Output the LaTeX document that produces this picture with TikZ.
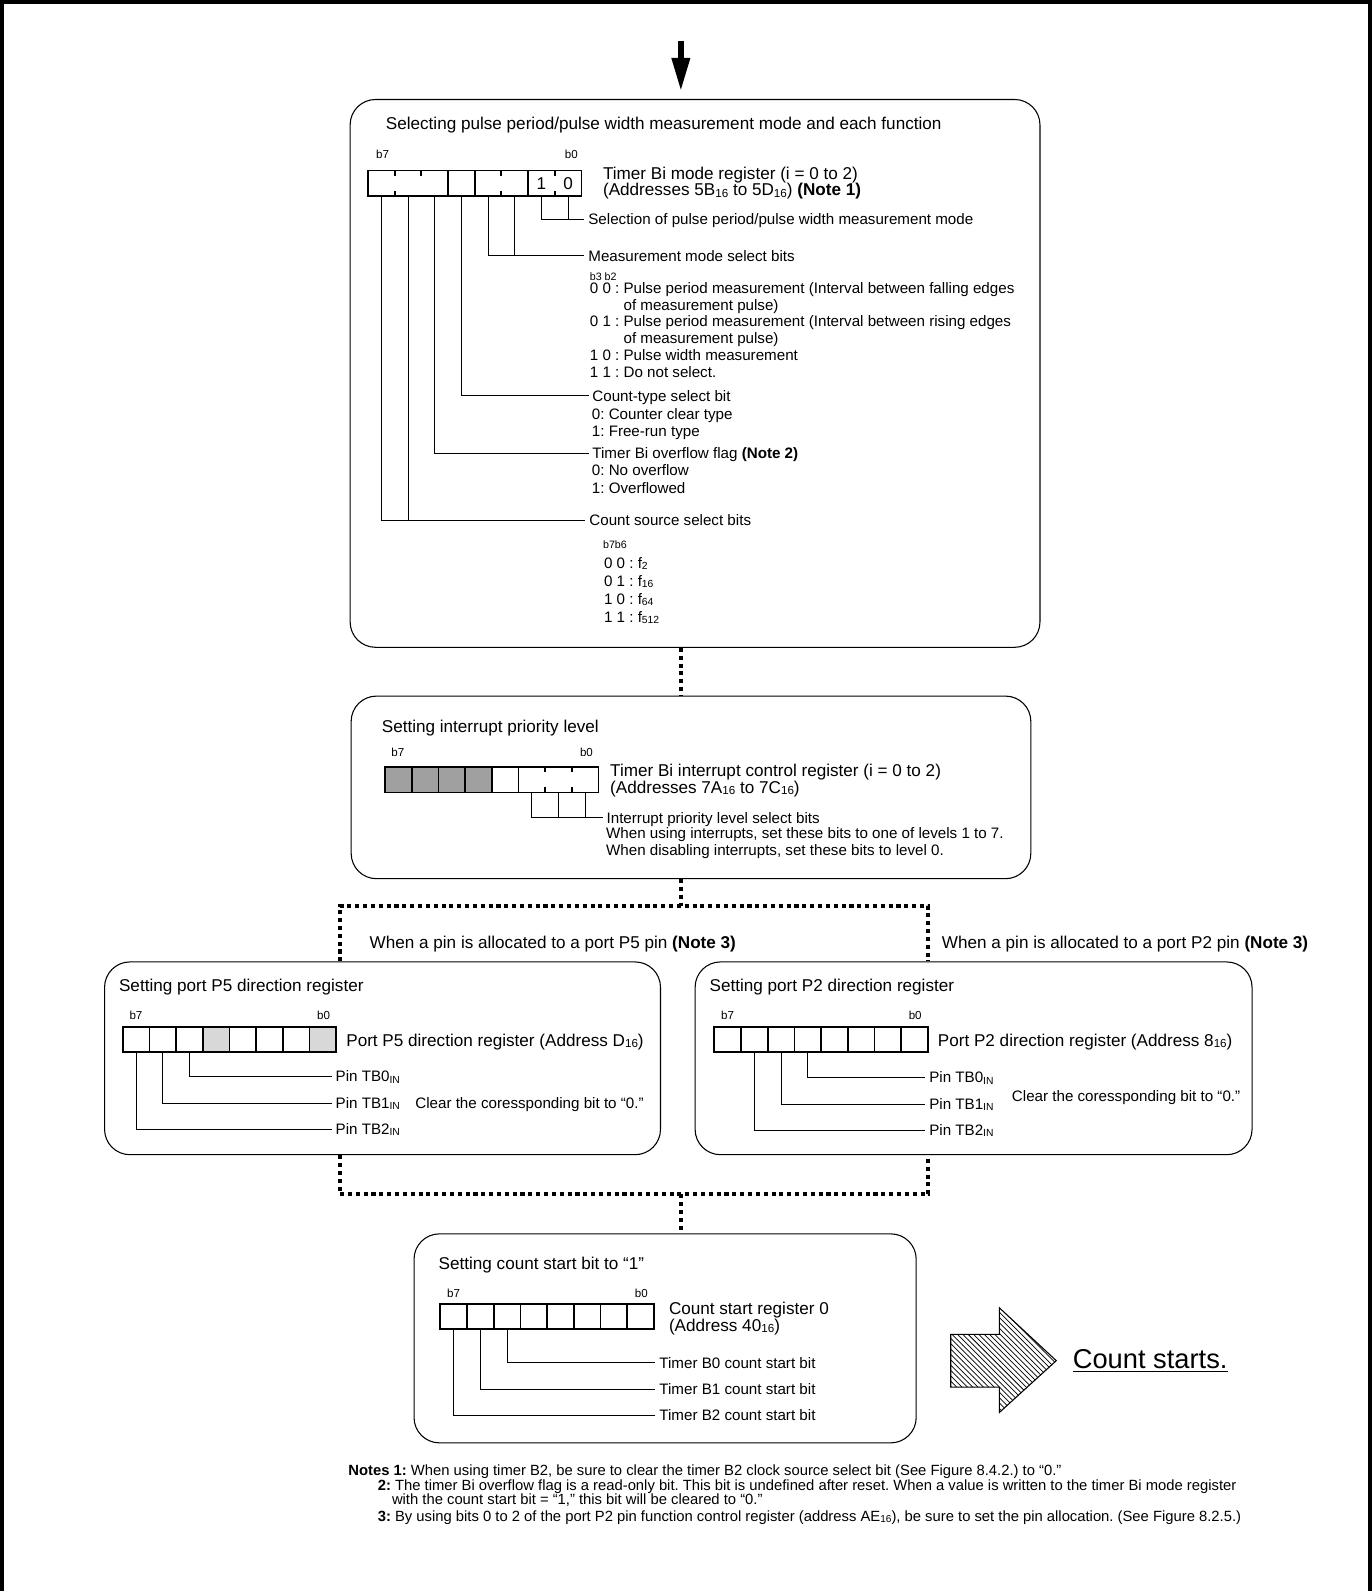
\documentclass[tikz,border=0pt]{standalone}
\usepackage{fontspec}
\setmainfont{Liberation Sans}
\usetikzlibrary{arrows.meta, patterns}
\definecolor{dunkelgrau}{RGB}{160,160,160}
\definecolor{hellgrau}{RGB}{216,216,216}
\makeatletter
\newcommand{\tief}[1]{\raisebox{-0.15ex}{\fontsize{\strip@pt\dimexpr0.68\dimexpr\f@size pt\relax\relax}{1}\selectfont #1}}
\makeatother
\frenchspacing

\begin{document}
\begin{tikzpicture}[x=0.02cm, y=-0.02cm,
	>={Triangle[length=0.66cm, width=0.34cm]}, %Pfeilspitze oben
	kasten/.style={draw, rounded corners=0.5cm, line width=0.6pt, inner sep=0pt},
	reg/.style={line width=1pt},
	bit/.style={line width=0.5pt},
	fluss/.style={line width=2.3pt, dash pattern=on 2.3pt off 2.1pt},
	gross/.style={font=\fontsize{9.6}{11}\selectfont, inner sep=0pt, anchor=base west},
	klein/.style={font=\fontsize{8.5}{9.5}\selectfont, inner sep=0pt, anchor=base west},
	lbl/.style={font=\fontsize{8.5}{9.5}\selectfont, inner ysep=0pt, inner xsep=2pt, anchor=west, text height=6pt, text depth=0pt},
	bitnr/.style={font=\fontsize{6.5}{7}\selectfont, inner sep=0pt, anchor=base},
	winzig/.style={font=\fontsize{6}{7}\selectfont, inner sep=0pt, anchor=base west},
	notiz/.style={font=\fontsize{8.3}{9}\selectfont, inner sep=0pt, anchor=base west}]
	\useasboundingbox (0,0) rectangle (1352,1568);
	%Rahmen
	\draw[line width=2.3pt] (2,1568) -- (2,2) -- (1350,2) -- (1350,1568);
	%Kaesten
	\node[kasten, minimum width=13.6cm, minimum height=10.8cm] (modus) at (685,368) {};
	\node[kasten, minimum width=13.4cm, minimum height=3.6cm] (prio) at (681,776) {};
	\node[kasten, minimum width=10.96cm, minimum height=3.8cm] (port5) at (377,1043) {};
	\node[kasten, minimum width=10.98cm, minimum height=3.8cm] (port2) at (959.5,1043) {};
	\node[kasten, minimum width=9.9cm, minimum height=4.12cm] (zaehler) at (655.5,1319) {};
	%Ablauf
	\coordinate (oben) at (671,40);
	\coordinate (mitte) at (671,90);
	\coordinate (gl) at (335,893);
	\coordinate (gr) at (915,893);
	\coordinate (ul) at (335,1177);
	\coordinate (ur) at (915,1177);
	\draw[->, line width=3.4pt] (oben) -- (mitte);
	\draw[fluss] (modus.south -| oben) -- (prio.north -| oben);
	\draw[fluss] (prio.south -| oben) -- (oben |- gl);
	\draw[fluss] (port5.north -| gl) -- (gl) -- (gr) -- (port2.north -| gr);
	\draw[fluss] (port5.south -| ul) -- (ul) -- (ur) -- (port2.south -| ur);
	\draw[fluss] (oben |- ul) -- (zaehler.north -| oben);

	%Timer Bi Modusregister
	\node[gross] (t1) at (380,128) {Selecting pulse period/pulse width measurement mode and each function};
	\node[bitnr] (m1b7) at (377,156) {b7};
	\node[bitnr] (m1b0) at (563,156) {b0};
	\draw[reg] (362.6,168) rectangle ++(210.4,25);
	\foreach \i in {3,4,6} \draw[reg] (362.6+26.3*\i,168) -- ++(0,25);
	\foreach \i in {1,5,7} \draw[reg] (362.6+26.3*\i,168) -- ++(0,5) (362.6+26.3*\i,193) -- ++(0,-5);
	\draw[reg] (362.6+26.3*2,168) -- ++(0,5);
	\node[gross, anchor=center] (z1) at (362.6+26.3*6.5,181) {1};
	\node[gross, anchor=center] (z0) at (362.6+26.3*7.5,181) {0};
	\foreach \b in {0,...,7} \coordinate (m\b) at (362.6+26.3*7.5-26.3*\b,193);
	\node[gross] (tbm) at (594,177) {Timer Bi mode register (i = 0 to 2)};
	\node[gross] (tbmadr) at (594,193) {(Addresses 5B\tief{16} to 5D\tief{16}) \textbf{(Note 1)}};
	\node[lbl] (sel) at (576,216) {Selection of pulse period/pulse width measurement mode};
	\draw[bit] (m1) |- (sel.west);
	\draw[bit] (m0) -- (m0 |- sel.west);
	\node[lbl] (mess) at (576,252) {Measurement mode select bits};
	\draw[bit] (m3) |- (mess.west);
	\draw[bit] (m2) -- (m2 |- mess.west);
	\node[winzig] (b32) at (581,276) {b3 b2};
	\foreach \t [count=\i from 0] in {{0 0 : Pulse period measurement (Interval between falling edges},
		{\hphantom{0 0 : }of measurement pulse)},
		{0 1 : Pulse period measurement (Interval between rising edges},
		{\hphantom{0 1 : }of measurement pulse)},
		{1 0 : Pulse width measurement}, {1 1 : Do not select.}}
		\node[klein] (mm\i) at (581,289+16.6*\i) {\t};
	\node[lbl] (typ) at (580,390) {Count-type select bit};
	\draw[bit] (m4) |- (typ.west);
	\node[klein] (typ0) at (583,413) {0: Counter clear type};
	\node[klein] (typ1) at (583,430) {1: Free-run type};
	\node[lbl] (ovf) at (580,447) {Timer Bi overflow flag \textbf{(Note 2)}};
	\draw[bit] (m5) |- (ovf.west);
	\node[klein] (ovf0) at (583,469) {0: No overflow};
	\node[klein] (ovf1) at (583,486) {1: Overflowed};
	\node[lbl] (src) at (577,513) {Count source select bits};
	\draw[bit] (m7) |- (src.west);
	\draw[bit] (m6) -- (m6 |- src.west);
	\node[winzig] (b76) at (594,541) {b7b6};
	\foreach \t [count=\i from 0] in {{0 0 : f\tief{2}}, {0 1 : f\tief{16}},
		{1 0 : f\tief{64}}, {1 1 : f\tief{512}}}
		\node[klein] (f\i) at (595,560+17.7*\i) {\t};

	%Interruptregister
	\node[gross] (t2) at (376,722) {Setting interrupt priority level};
	\node[bitnr] (m2b7) at (392,746) {b7};
	\node[bitnr] (m2b0) at (578,746) {b0};
	\foreach \i in {0,...,3} \fill[dunkelgrau] (379.5+26.3*\i,756) rectangle ++(26.3,25);
	\draw[reg] (379.5,756) rectangle ++(210.4,25);
	\foreach \i in {1,...,5} \draw[reg] (379.5+26.3*\i,756) -- ++(0,25);
	\foreach \i in {6,7} \draw[reg] (379.5+26.3*\i,756) -- ++(0,5) (379.5+26.3*\i,781) -- ++(0,-5);
	\foreach \b in {0,...,7} \coordinate (n\b) at (379.5+26.3*7.5-26.3*\b,781);
	\node[gross] (tbi) at (601,765) {Timer Bi interrupt control register (i = 0 to 2)};
	\node[gross] (tbiadr) at (601,782) {(Addresses 7A\tief{16} to 7C\tief{16})};
	\node[lbl] (ipl) at (594,806) {Interrupt priority level select bits};
	\draw[bit] (n2) |- (ipl.west);
	\draw[bit] (n1) -- (n1 |- ipl.west);
	\draw[bit] (n0) -- (n0 |- ipl.west);
	\node[klein] (ipl1) at (597,826) {When using interrupts, set these bits to one of levels 1 to 7.};
	\node[klein] (ipl2) at (597,843) {When disabling interrupts, set these bits to level 0.};

	%Verzweigung
	\node[gross] (zw5) at (364,935) {When a pin is allocated to a port P5 pin \textbf{(Note 3)}};
	\node[gross] (zw2) at (928,935) {When a pin is allocated to a port P2 pin \textbf{(Note 3)}};

	%Port P5
	\node[gross] (t5) at (117,977) {Setting port P5 direction register};
	\node[bitnr] (p5b7) at (134,1005) {b7};
	\node[bitnr] (p5b0) at (319,1005) {b0};
	\foreach \i in {3,7} \fill[hellgrau] (121+26.3*\i,1012) rectangle ++(26.3,25);
	\draw[reg] (121,1012) rectangle ++(210.4,25);
	\foreach \i in {1,...,7} \draw[reg] (121+26.3*\i,1012) -- ++(0,25);
	\foreach \b in {0,...,7} \coordinate (rf\b) at (121+26.3*7.5-26.3*\b,1037);
	\node[gross] (p5name) at (341,1031) {Port P5 direction register (Address D\tief{16})};
	\node[lbl] (p5tb0) at (327,1061) {Pin TB0\tief{IN}};
	\node[lbl] (p5tb1) at (327,1087) {Pin TB1\tief{IN}};
	\node[lbl] (p5tb2) at (327,1113) {Pin TB2\tief{IN}};
	\draw[bit] (rf5) |- (p5tb0.west);
	\draw[bit] (rf6) |- (p5tb1.west);
	\draw[bit] (rf7) |- (p5tb2.west);
	\node[klein] (p5clr) at (409,1092) {Clear the coressponding bit to “0.”};

	%Port P2
	\node[gross] (t6) at (699,977) {Setting port P2 direction register};
	\node[bitnr] (p2b7) at (717,1005) {b7};
	\node[bitnr] (p2b0) at (902,1005) {b0};
	\draw[reg] (704,1012) rectangle ++(210.4,25);
	\foreach \i in {1,...,7} \draw[reg] (704+26.3*\i,1012) -- ++(0,25);
	\foreach \b in {0,...,7} \coordinate (rz\b) at (704+26.3*7.5-26.3*\b,1037);
	\node[gross] (p2name) at (924,1031) {Port P2 direction register (Address 8\tief{16})};
	\node[lbl] (p2tb0) at (912,1062) {Pin TB0\tief{IN}};
	\node[lbl] (p2tb1) at (912,1088) {Pin TB1\tief{IN}};
	\node[lbl] (p2tb2) at (912,1114) {Pin TB2\tief{IN}};
	\draw[bit] (rz4) |- (p2tb0.west);
	\draw[bit] (rz5) |- (p2tb1.west);
	\draw[bit] (rz6) |- (p2tb2.west);
	\node[klein] (p2clr) at (997,1086) {Clear the coressponding bit to “0.”};

	%Zaehlstart
	\node[gross] (t7) at (432,1251) {Setting count start bit to “1”};
	\node[bitnr] (csb7) at (447,1279) {b7};
	\node[bitnr] (csb0) at (632,1279) {b0};
	\draw[reg] (434,1285) rectangle ++(210.4,25);
	\foreach \i in {1,...,7} \draw[reg] (434+26.3*\i,1285) -- ++(0,25);
	\foreach \b in {0,...,7} \coordinate (rs\b) at (434+26.3*7.5-26.3*\b,1310);
	\node[gross] (csname) at (659,1295) {Count start register 0};
	\node[gross] (csadr) at (659,1312) {(Address 40\tief{16})};
	\node[lbl] (tb0) at (646,1343) {Timer B0 count start bit};
	\node[lbl] (tb1) at (646,1369) {Timer B1 count start bit};
	\node[lbl] (tb2) at (646,1395) {Timer B2 count start bit};
	\draw[bit] (rs5) |- (tb0.west);
	\draw[bit] (rs6) |- (tb1.west);
	\draw[bit] (rs7) |- (tb2.west);

	%Schraffierter Pfeil
	\draw[line width=0.6pt, pattern=north west lines] (937,1315) -- (985,1315) -- (985,1289) -- (1041,1341)
		-- (985,1392) -- (985,1367) -- (937,1367) -- cycle;
	\node[font=\fontsize{15.3}{17}\selectfont, inner sep=0pt, anchor=base west] (los) at (1057,1349) {\underline{Count starts.}};

	%Anmerkungen
	\node[notiz] (n1) at (343,1454) {\textbf{Notes 1:} When using timer B2, be sure to clear the timer B2 clock source select bit (See Figure 8.4.2.) to “0.”};
	\node[notiz] (n2) at (372,1469) {\textbf{2:} The timer Bi overflow flag is a read-only bit. This bit is undefined after reset. When a value is written to the timer Bi mode register};
	\node[notiz] (n2b) at (386,1483) {with the count start bit = “1,” this bit will be cleared to “0.”};
	\node[notiz] (n3) at (372,1499) {\textbf{3:} By using bits 0 to 2 of the port P2 pin function control register (address AE\tief{16}), be sure to set the pin allocation. (See Figure 8.2.5.)};
\end{tikzpicture}
\end{document}
